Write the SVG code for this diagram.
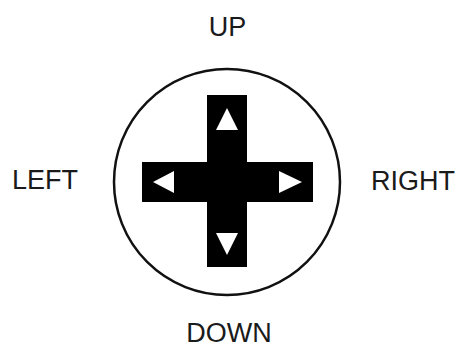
<svg xmlns="http://www.w3.org/2000/svg" width="460" height="349" viewBox="0 0 460 349">
<style>
.lbl{font-family:"Liberation Sans",Arial,sans-serif;font-size:27px;fill:#1a1a1a}
.arr{fill:#fff}
</style>
<rect width="460" height="349" fill="#fff"/>
<g id="pad">
<circle cx="227" cy="182" r="113" fill="#fff" stroke="#111" stroke-width="2.5"/>
<path d="M207 95H247V162H313V202H247V267H207V202H142V162H207Z" fill="#000"/>
<polygon class="arr" points="227,108 216,130 238,130"/>
<polygon class="arr" points="227,255 216,233 238,233"/>
<polygon class="arr" points="153,182 174,171 174,193"/>
<polygon class="arr" points="302,182 279,171 279,193"/>
</g>
<g id="labels">
<text class="lbl" x="227.5" y="36" text-anchor="middle">UP</text>
<text class="lbl" x="12" y="189">LEFT</text>
<text class="lbl" x="413" y="190" text-anchor="middle">RIGHT</text>
<text class="lbl" x="229" y="342" text-anchor="middle">DOWN</text>
</g>
</svg>
